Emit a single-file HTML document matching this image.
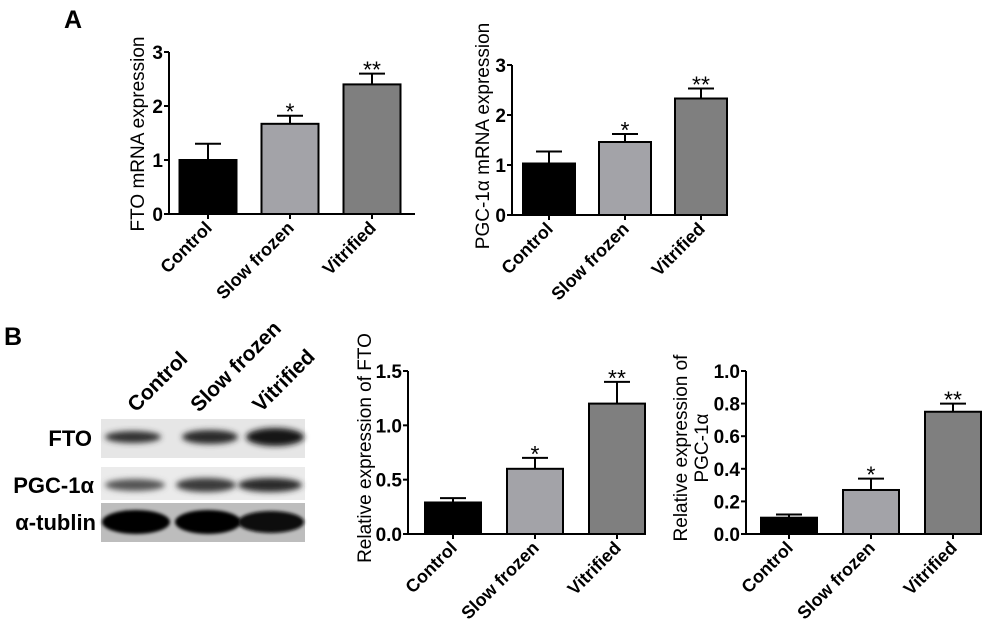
<!DOCTYPE html>
<html><head><meta charset="utf-8">
<style>
html,body{margin:0;padding:0;background:#fff;}
svg{display:block;font-family:"Liberation Sans",Arial,sans-serif;}
</style></head>
<body>
<svg id="fig" width="1000" height="630" viewBox="0 0 1000 630" xmlns="http://www.w3.org/2000/svg">
  <defs>
    <filter id="blur1" x="-20%" y="-50%" width="140%" height="200%"><feGaussianBlur stdDeviation="3"/></filter>
    <filter id="blur2" x="-20%" y="-50%" width="140%" height="200%"><feGaussianBlur stdDeviation="1.5"/></filter>
  </defs>
  <text x="64" y="28" font-size="25" font-weight="bold">A</text>
  <text x="4" y="345" font-size="25" font-weight="bold">B</text>

  <g>
    <text transform="translate(136,413) rotate(-45)" font-size="21" font-weight="bold">Control</text>
    <text transform="translate(199,413) rotate(-45)" font-size="21" font-weight="bold">Slow frozen</text>
    <text transform="translate(261,413) rotate(-45)" font-size="21" font-weight="bold">Vitrified</text>

    <rect x="101" y="419" width="204" height="39" fill="#e6e6e6"/>
    <ellipse cx="133" cy="437" rx="28" ry="6" fill="#333" filter="url(#blur1)"/>
    <ellipse cx="210" cy="437" rx="28" ry="7" fill="#2a2a2a" filter="url(#blur1)"/>
    <ellipse cx="275" cy="437" rx="29" ry="9" fill="#151515" filter="url(#blur1)"/>
    <text x="92" y="446" font-size="22" font-weight="bold" text-anchor="end">FTO</text>

    <rect x="101" y="467" width="204" height="33" fill="#ebebeb"/>
    <ellipse cx="135" cy="485" rx="30" ry="6" fill="#555" filter="url(#blur1)"/>
    <ellipse cx="206" cy="485" rx="30" ry="7" fill="#3a3a3a" filter="url(#blur1)"/>
    <ellipse cx="270" cy="485" rx="32" ry="7" fill="#2a2a2a" filter="url(#blur1)"/>
    <text x="94" y="493" font-size="22" font-weight="bold" text-anchor="end">PGC-1α</text>

    <rect x="101" y="503" width="204" height="39" fill="#bdbdbd"/>
    <ellipse cx="136" cy="522" rx="34" ry="12" fill="#050505" filter="url(#blur2)"/>
    <ellipse cx="208" cy="522" rx="33" ry="12" fill="#050505" filter="url(#blur2)"/>
    <ellipse cx="271" cy="522" rx="33" ry="11" fill="#080808" filter="url(#blur2)"/>
    <text x="96" y="530" font-size="22" font-weight="bold" text-anchor="end">α-tublin</text>
  </g>

  <g id="charts"></g>
</svg>
<script>
const categories = ["Control", "Slow frozen", "Vitrified"];
const ftoMrnaValues = [1.0, 1.67, 2.4];
const ftoMrnaErrors = [0.3, 0.15, 0.2];
const pgcMrnaValues = [1.03, 1.46, 2.33];
const pgcMrnaErrors = [0.24, 0.16, 0.2];
const ftoProteinValues = [0.29, 0.6, 1.2];
const ftoProteinErrors = [0.04, 0.1, 0.2];
const pgcProteinValues = [0.1, 0.27, 0.75];
const pgcProteinErrors = [0.02, 0.07, 0.05];
const significance = ["", "*", "**"];
const ticksA = [0, 1, 2, 3];
const ticksFto = [0, 0.5, 1.0, 1.5];
const ticksPgc = [0, 0.2, 0.4, 0.6, 0.8, 1.0];
const tickLabelsA = ["0", "1", "2", "3"];
const tickLabelsFto = ["0.0", "0.5", "1.0", "1.5"];
const tickLabelsPgc = ["0.0", "0.2", "0.4", "0.6", "0.8", "1.0"];

const NS = "http://www.w3.org/2000/svg";
const fills = ["#000000", "#a3a3a8", "#7f7f7f"];
const root = document.getElementById("charts");

function mk(tag, attrs, parent) {
  const e = document.createElementNS(NS, tag);
  for (const k in attrs) e.setAttribute(k, attrs[k]);
  parent.appendChild(e);
  return e;
}

function chart(cfg) {
  const g = mk("g", {}, root);
  
  
  const ymax = cfg.ticks[cfg.ticks.length - 1];
  const y = v => cfg.y0 - (v / ymax) * (cfg.y0 - cfg.yTop);
  const x = i => cfg.x0 + cfg.first + i * cfg.step;
  const ya = mk("line", {x1: cfg.axisX, y1: cfg.yTop, x2: cfg.axisX, y2: cfg.y0 + 1, stroke: "#000", "stroke-width": 2}, g);
  
  
  const xa = mk("line", {x1: cfg.axisX - 1, y1: cfg.y0, x2: cfg.xEnd, y2: cfg.y0, stroke: "#000", "stroke-width": 2}, g);
  
  
  cfg.ticks.forEach((t, i) => {
    mk("line", {x1: cfg.axisX - 5, y1: y(t), x2: cfg.axisX, y2: y(t), stroke: "#000", "stroke-width": 2}, g);
    const tl = mk("text", {x: cfg.axisX - 6, y: y(t) + 7, "font-size": 19, "font-weight": "bold", "text-anchor": "end"}, g);
    tl.textContent = cfg.tickLabels[i];
    
    
  });
  cfg.values.forEach((v, i) => {
    const cx = x(i);
    const top = y(v), etop = y(v + cfg.errors[i]);
    const eb = mk("line", {x1: cx, y1: top, x2: cx, y2: etop, stroke: "#000", "stroke-width": 2}, g);
    
    
    mk("line", {x1: cx - 13, y1: etop, x2: cx + 13, y2: etop, stroke: "#000", "stroke-width": 2}, g);
    const b = mk("rect", {x: cx - cfg.bw / 2, y: top, width: cfg.bw, height: cfg.y0 - top, fill: fills[i], stroke: "#000", "stroke-width": 2}, g);
    
    
    if (significance[i]) {
      const s = mk("text", {x: cx, y: etop + 4, "font-size": 23, "text-anchor": "middle"}, g);
      s.textContent = significance[i];
      
      
    }
    mk("line", {x1: cx, y1: cfg.y0, x2: cx, y2: cfg.y0 + 5, stroke: "#000", "stroke-width": 2}, g);
    const cl = mk("text", {transform: `translate(${cx + 5},${cfg.y0 + 15}) rotate(-45)`, "font-size": 18, "font-weight": "bold", "text-anchor": "end"}, g);
    cl.textContent = categories[i];
    
    
  });
  cfg.title.forEach((line, k) => {
    const t = mk("text", {transform: `translate(${cfg.titleX + k * 21},${cfg.titleY}) rotate(-90)`, "font-size": 19, "text-anchor": "middle"}, g);
    t.textContent = line;
    
    
  });
}

chart({name: "chart-fto-mrna", values: ftoMrnaValues, errors: ftoMrnaErrors, ticks: ticksA, tickLabels: tickLabelsA,
  axisX: 169, x0: 169, first: 39, step: 82, bw: 57, y0: 214, yTop: 52, xEnd: 415,
  title: ["FTO mRNA expression"], titleX: 144, titleY: 134});
chart({name: "chart-pgc-mrna", values: pgcMrnaValues, errors: pgcMrnaErrors, ticks: ticksA, tickLabels: tickLabelsA,
  axisX: 512, x0: 512, first: 37, step: 76, bw: 52, y0: 215, yTop: 65, xEnd: 727,
  title: ["PGC-1α mRNA expression"], titleX: 489, titleY: 136});
chart({name: "chart-fto-protein", values: ftoProteinValues, errors: ftoProteinErrors, ticks: ticksFto, tickLabels: tickLabelsFto,
  axisX: 408, x0: 408, first: 45, step: 82, bw: 56, y0: 534, yTop: 371, xEnd: 646,
  title: ["Relative expression of FTO"], titleX: 371, titleY: 448});
chart({name: "chart-pgc-protein", values: pgcProteinValues, errors: pgcProteinErrors, ticks: ticksPgc, tickLabels: tickLabelsPgc,
  axisX: 746, x0: 746, first: 43, step: 82, bw: 56, y0: 534, yTop: 371, xEnd: 982,
  title: ["Relative expression of", "PGC-1α"], titleX: 687, titleY: 448});
</script>
</body></html>
